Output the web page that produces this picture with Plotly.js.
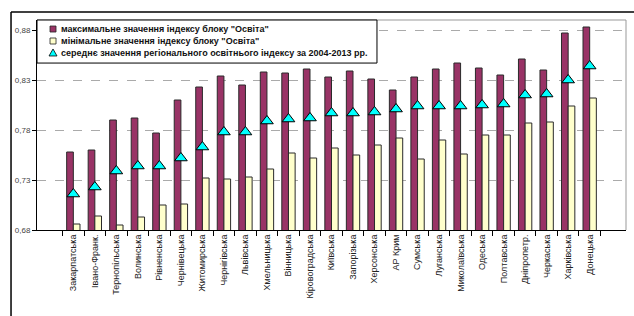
<!DOCTYPE html>
<html>
<head>
<meta charset="utf-8">
<script src="https://cdn.plot.ly/plotly-3.0.1.min.js"></script>
<style>html,body{margin:0;padding:0;background:#fff;}#chart{width:634px;height:316px;}</style>
</head>
<body>
<div id="chart"></div>
<script>
var regions = ["Закарпатська","Івано-Франк.","Тернопільська","Волинська","Рівненська","Чернівецька","Житомирська","Чернігівська","Львівська","Хмельницька","Вінницька","Кіровоградська","Київська","Запорізька","Херсонська","АР Крим","Сумська","Луганська","Миколаївська","Одеська","Полтавська","Дніпропетр.","Черкаська","Харківська","Донецька"];
var maxVals = [0.758,0.760,0.790,0.792,0.777,0.810,0.823,0.834,0.825,0.838,0.837,0.841,0.833,0.839,0.831,0.820,0.833,0.841,0.847,0.842,0.835,0.851,0.840,0.877,0.883];
var minVals = [0.686,0.694,0.685,0.693,0.705,0.706,0.732,0.731,0.733,0.741,0.757,0.752,0.762,0.755,0.765,0.772,0.751,0.770,0.756,0.775,0.775,0.787,0.788,0.804,0.812];
var avgVals = [0.716,0.723,0.739,0.744,0.744,0.752,0.763,0.778,0.778,0.789,0.791,0.792,0.797,0.797,0.798,0.801,0.804,0.804,0.804,0.805,0.806,0.815,0.816,0.830,0.844];
var yTicks = [0.68,0.73,0.78,0.83,0.88];
var yTickText = ["0,68","0,73","0,78","0,83","0,88"];
var seriesNames = ["максимальне значення індексу блоку \"Освіта\"",
                   "мінімальне значення індексу блоку \"Освіта\"",
                   "середнє значення регіонального освітнього індексу за 2004-2013 рр."];
var colMax = "#993366", colMin = "#FFFFCC", colAvg = "#00FFFF";

var traces = [
  {type:"bar", x:regions, y:maxVals, name:seriesNames[0],
   marker:{color:colMax, line:{color:"#2a2a2a", width:1}}},
  {type:"bar", x:regions, y:minVals, name:seriesNames[1],
   marker:{color:colMin, line:{color:"#2a2a2a", width:1}}},
  {type:"scatter", mode:"markers", x:regions, y:avgVals, name:seriesNames[2],
   marker:{symbol:"triangle-up", size:11, color:colAvg, line:{color:"#000", width:1}}}
];

// custom legend (box, symbols, text) in paper coordinates
var lgX0 = 0, lgX1 = 0.5772, lgY0 = 0.795, lgY1 = 1;
var rowY = [0.957, 0.9, 0.843];
var symX = 0.0272, txtX = 0.037;
var shapes = [
  {type:"line", xref:"paper", yref:"paper", x0:0, x1:1, y0:1, y1:1, line:{color:"#999", width:1}},
  {type:"line", xref:"paper", yref:"paper", x0:1, x1:1, y0:0, y1:1, line:{color:"#999", width:1}},
  {type:"line", xref:"paper", yref:"paper", x0:-0.0441, x1:-0.0441, y0:-0.5, y1:1.038, line:{color:"#000", width:1.5}},
  {type:"line", xref:"paper", yref:"paper", x0:-0.0441, x1:1.1, y0:1.038, y1:1.038, line:{color:"#000", width:1.5}},
  {type:"rect", xref:"paper", yref:"paper", x0:lgX0, x1:lgX1, y0:lgY0, y1:lgY1, fillcolor:"#fff", line:{color:"#000", width:1}},
  {type:"rect", xref:"paper", yref:"paper", xsizemode:"pixel", ysizemode:"pixel", xanchor:symX, yanchor:rowY[0],
   x0:-3, x1:3, y0:-3, y1:3, fillcolor:colMax, line:{color:"#222", width:0.8}},
  {type:"rect", xref:"paper", yref:"paper", xsizemode:"pixel", ysizemode:"pixel", xanchor:symX, yanchor:rowY[1],
   x0:-3, x1:3, y0:-3, y1:3, fillcolor:colMin, line:{color:"#222", width:0.8}},
  {type:"path", xref:"paper", yref:"paper", xsizemode:"pixel", ysizemode:"pixel", xanchor:symX, yanchor:rowY[2],
   path:"M-4,-3 L4,-3 L0,4 Z", fillcolor:colAvg, line:{color:"#000", width:0.8}}
];
var annotations = seriesNames.map(function(t, i){
  return {xref:"paper", yref:"paper", x:txtX, y:rowY[i], text:t, showarrow:false, xanchor:"left", yanchor:"middle",
          font:{family:"Liberation Sans, Arial, sans-serif", size:9, color:"#111", weight:"bold"}};
});

var layout = {
  width:634, height:316,
  margin:{l:37, r:8, t:20, b:86},
  paper_bgcolor:"#fff", plot_bgcolor:"#fff",
  font:{family:"Liberation Sans, Arial, sans-serif", size:9, color:"#222"},
  barmode:"group", bargap:0.38, bargroupgap:0,
  showlegend:false,
  xaxis:{type:"category", tickangle:-90, tickson:"boundaries", ticks:"outside", ticklen:5, tickcolor:"#000",
         showline:true, linecolor:"#000", linewidth:1, showgrid:false,
         tickfont:{size:9, color:"#222"}},
  yaxis:{range:[0.68,0.89], tickvals:yTicks, ticktext:yTickText, ticks:"outside", ticklen:4, tickcolor:"#000",
         showline:true, linecolor:"#000", linewidth:1, showgrid:true, gridcolor:"#aaa", griddash:"dash", gridwidth:1,
         zeroline:false, tickfont:{size:8, color:"#444"}},
  shapes:shapes,
  annotations:annotations
};

Plotly.newPlot("chart", traces, layout, {displayModeBar:false, staticPlot:true});
</script>
</body>
</html>
